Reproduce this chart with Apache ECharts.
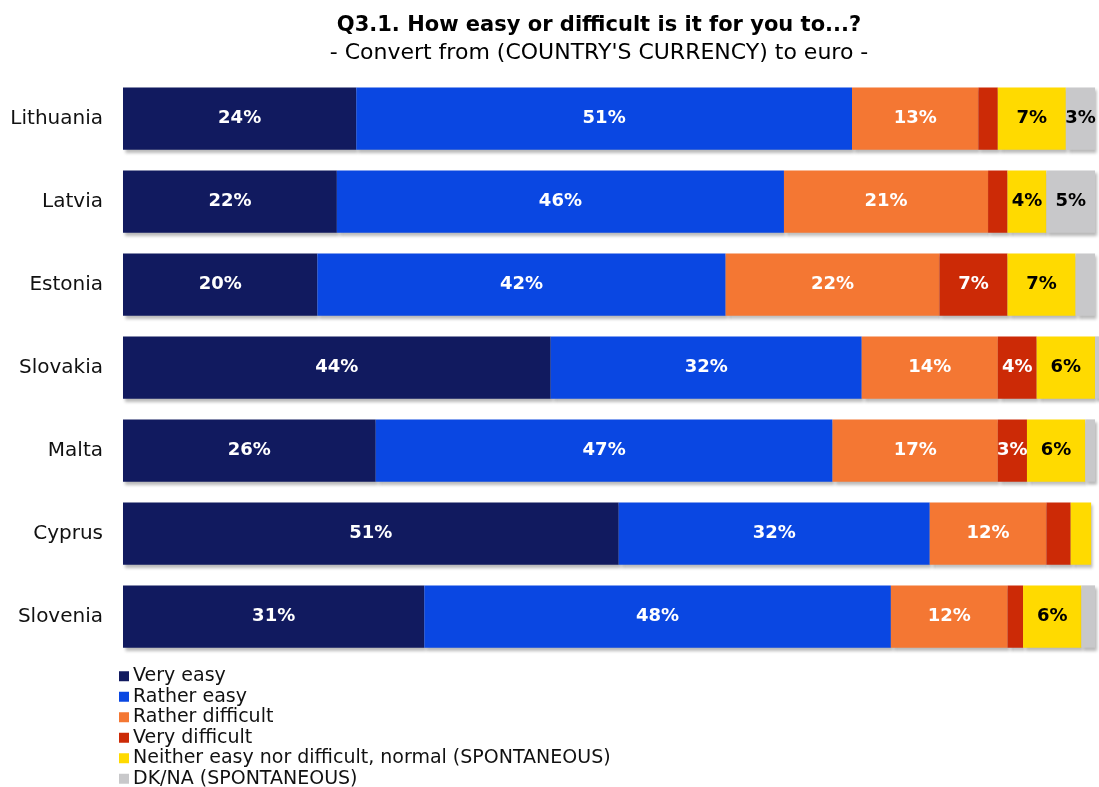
<!DOCTYPE html>
<html>
<head>
<meta charset="utf-8">
<script src="https://cdn.jsdelivr.net/npm/echarts@6/dist/echarts.min.js"></script>
<style>
  html, body { margin: 0; padding: 0; background: #ffffff; }
  #chart { width: 1099px; height: 787px; }
</style>
</head>
<body>
<div id="chart"></div>
<script>
// Countries, top to bottom
const countries = ['Lithuania', 'Latvia', 'Estonia', 'Slovakia', 'Malta', 'Cyprus', 'Slovenia'];

// Answer shares (%) per country, one array per answer
const veryEasy      = [24, 22, 20, 44, 26, 51, 31];
const ratherEasy    = [51, 46, 42, 32, 47, 32, 48];
const ratherDiff    = [13, 21, 22, 14, 17, 12, 12];
const veryDiff      = [2, 2, 7, 4, 3, 2.5, 1.6];
const neither       = [7, 4, 7, 6, 6, 2.1, 6];
const dkna          = [3, 5, 2, 0.8, 1, 0, 1.4];

const seriesNames = [
  'Very easy',
  'Rather easy',
  'Rather difficult',
  'Very difficult',
  'Neither easy nor difficult, normal (SPONTANEOUS)',
  'DK/NA (SPONTANEOUS)'
];
const seriesColors = ['#111a5f', '#0a47e2', '#f47733', '#cc2a06', '#ffda00', '#c8c8ca'];
const labelColors  = ['#ffffff', '#ffffff', '#ffffff', '#ffffff', '#000000', '#000000'];
const seriesData = [veryEasy, ratherEasy, ratherDiff, veryDiff, neither, dkna];

const chart = echarts.init(document.getElementById('chart'), null, { renderer: 'canvas' });

const series = seriesData.map((vals, i) => ({
  name: seriesNames[i],
  type: 'bar',
  stack: 'total',
  data: vals,
  barCategoryGap: '25%',
  clip: false,
  itemStyle: {
    color: seriesColors[i],
    shadowColor: 'rgba(0,0,0,0.28)',
    shadowBlur: 3,
    shadowOffsetX: 2,
    shadowOffsetY: 3
  },
  label: {
    show: true,
    position: 'inside',
    color: labelColors[i],
    fontFamily: 'DejaVu Sans',
    fontWeight: 'bold',
    fontSize: 18,
    formatter: p => (p.value >= 3 ? Math.round(p.value) + '%' : '')
  },
  emphasis: { disabled: true }
}));

chart.setOption({
  animation: false,
  backgroundColor: '#ffffff',
  title: {
    text: 'Q3.1. How easy or difficult is it for you to...?',
    subtext: "- Convert from (COUNTRY'S CURRENCY) to euro -",
    left: 594,
    textAlign: 'center',
    top: 10,
    itemGap: 6,
    textStyle: {
      fontFamily: 'DejaVu Sans',
      fontWeight: 'bold',
      fontSize: 21,
      color: '#000000'
    },
    subtextStyle: {
      fontFamily: 'DejaVu Sans',
      fontSize: 22,
      color: '#000000'
    }
  },
  legend: {
    orient: 'vertical',
    left: 119,
    top: 666,
    height: 140,
    padding: 0,
    itemWidth: 10,
    itemHeight: 10,
    itemGap: 0,
    icon: 'rect',
    selectedMode: false,
    textStyle: {
      fontFamily: 'DejaVu Sans',
      fontSize: 19,
      lineHeight: 20.5,
      color: '#111111',
      padding: [0, 0, 0, -1]
    },
    data: seriesNames
  },
  grid: {
    left: 123,
    top: 77,
    width: 972,
    height: 581,
    containLabel: false
  },
  xAxis: {
    type: 'value',
    min: 0,
    max: 100,
    show: false
  },
  yAxis: {
    type: 'category',
    data: countries,
    inverse: true,
    axisLine: { show: false },
    axisTick: { show: false },
    axisLabel: {
      margin: 20,
      fontFamily: 'DejaVu Sans',
      fontSize: 20,
      color: '#111111'
    }
  },
  series: series
});
</script>
</body>
</html>
